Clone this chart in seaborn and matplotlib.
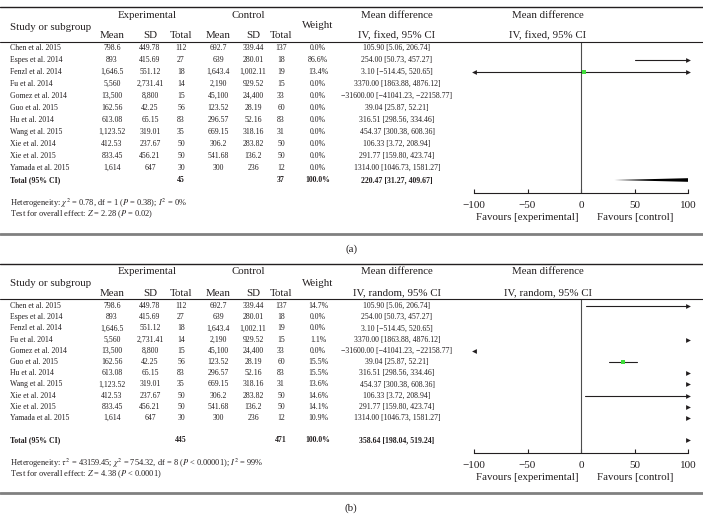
import matplotlib
matplotlib.use("Agg")
import numpy as np
import pandas as pd
import matplotlib.pyplot as plt
from matplotlib.lines import Line2D
import seaborn as sns

# --- data ---
studies = ["Chen et al. 2015", "Espes et al. 2014", "Fenzl et al. 2014", "Fu et al. 2014",
           "Gomez et al. 2014", "Guo et al. 2015", "Hu et al. 2014", "Wang et al. 2015",
           "Xie et al. 2014", "Xie et al. 2015", "Yamada et al. 2015"]
exp_mean = [798.6, 893, 1646.5, 5560, 13500, 162.56, 613.08, 1123.52, 412.53, 833.45, 1614]
exp_sd = [449.78, 415.69, 551.12, 2731.41, 8800, 42.25, 65.15, 319.01, 237.67, 456.21, 647]
exp_n = [112, 27, 18, 14, 15, 56, 83, 35, 50, 50, 30]
ctrl_mean = [692.7, 639, 1643.4, 2190, 45100, 123.52, 296.57, 669.15, 306.2, 541.68, 300]
ctrl_sd = [339.44, 280.01, 1002.11, 929.52, 24400, 28.19, 52.16, 318.16, 283.82, 136.2, 236]
ctrl_n = [137, 18, 19, 15, 33, 60, 83, 31, 50, 50, 12]
md = [105.90, 254.00, 3.10, 3370.00, -31600.00, 39.04, 316.51, 454.37, 106.33, 291.77, 1314.00]
md_lo = [5.06, 50.73, -514.45, 1863.88, -41041.23, 25.87, 298.56, 300.38, 3.72, 159.80, 1046.73]
md_hi = [206.74, 457.27, 520.65, 4876.12, -22158.77, 52.21, 334.46, 608.36, 208.94, 423.74, 1581.27]

weight_fixed = [0.0, 86.6, 13.4, 0.0, 0.0, 0.0, 0.0, 0.0, 0.0, 0.0, 0.0]
weight_random = [14.7, 0.0, 0.0, 1.1, 0.0, 15.5, 15.5, 13.6, 14.6, 14.1, 10.9]
shown_fixed = [False, True, True, False, False, False, False, False, False, False, False]
shown_random = [True, False, False, True, True, True, True, True, True, True, True]

total_fixed = dict(n_exp=45, n_ctrl=37, md=220.47, lo=31.27, hi=409.67)
total_random = dict(n_exp=445, n_ctrl=471, md=358.64, lo=198.04, hi=519.24)

xticks = [-100, -50, 0, 50, 100]

W, H = 703, 530
TXT = "#231f20"

sns.set_theme(style="white")
plt.rcParams["font.family"] = ["Liberation Serif", "DejaVu Serif"]
plt.rcParams["mathtext.fontset"] = "stix"

fig = plt.figure(figsize=(W / 100, H / 100), dpi=100)


def put(x, y, s, size=5.6, ha="center", weight="normal"):
    fig.text(x / W, 1 - y / H, s, ha=ha, va="center", fontsize=size,
             color=TXT, fontweight=weight)


def rule(y, lw=0.9, color=TXT):
    fig.add_artist(Line2D([0, 1], [1 - y / H] * 2, lw=lw, color=color))


def fmt_md(m, lo, hi):
    return f"{m:.2f} [{lo:.2f}, {hi:.2f}]".replace("-", "\u2212")


# column centres (px)
cx = dict(em=112, esd=150, en=181, cm=218, csd=253, cn=281, w=318, md=397)


def panel(top, y0, dy, total_y, axis_y, weights, shown, tot, method, het, test, tag, bottom):
    head_y = top + 8
    rule(top, lw=1.0)
    put(147, head_y, "Experimental", 7.8)
    put(248, head_y, "Control", 7.8)
    put(397, head_y, "Mean difference", 7.8)
    put(548, head_y, "Mean difference", 7.8)
    put(10, top + 20, "Study or subgroup", 7.8, ha="left")
    put(cx["w"], top + 19, "Weight", 7.8)
    sub_y = top + 29
    for k, lab in zip(["em", "esd", "en", "cm", "csd", "cn"],
                      ["Mean", "SD", "Total", "Mean", "SD", "Total"]):
        put(cx[k], sub_y, lab, 7.8)
    put(397, sub_y, f"IV, {method}, 95% CI", 7.8)
    put(548, sub_y, f"IV, {method}, 95% CI", 7.8)
    hrule = top + 35
    rule(hrule, lw=0.8)

    row_y = y0 + np.arange(len(studies)) * dy
    for i, y in enumerate(row_y):
        put(10, y, studies[i], ha="left")
        put(cx["em"], y, f"{exp_mean[i]:,}")
        put(cx["esd"], y, f"{exp_sd[i]:,}")
        put(cx["en"], y, str(exp_n[i]))
        put(cx["cm"], y, f"{ctrl_mean[i]:,}")
        put(cx["csd"], y, f"{ctrl_sd[i]:,}")
        put(cx["cn"], y, str(ctrl_n[i]))
        put(cx["w"], y, f"{weights[i]:.1f}%")
        put(cx["md"], y, fmt_md(md[i], md_lo[i], md_hi[i]))
    put(10, total_y, "Total (95% CI)", ha="left", weight="bold")
    put(cx["en"], total_y, str(tot["n_exp"]), weight="bold")
    put(cx["cn"], total_y, str(tot["n_ctrl"]), weight="bold")
    put(cx["w"], total_y, "100.0%", weight="bold")
    put(cx["md"], total_y, fmt_md(tot["md"], tot["lo"], tot["hi"]), weight="bold")

    put(10, axis_y + 10, het, 6.0, ha="left")
    put(10, axis_y + 21, test, 6.0, ha="left")

    # forest plot
    ax = fig.add_axes([474 / W, 1 - axis_y / H, 214 / W, (axis_y - hrule) / H])
    ax.patch.set_alpha(0)
    ax.set_xlim(-100, 100)
    ax.set_ylim(axis_y, hrule)
    ax.axvline(0, color="#4d4d4d", lw=0.8)

    df = pd.DataFrame(dict(md=md, lo=md_lo, hi=md_hi, w=weights, y=row_y))[shown]
    right, left = [], []
    for r in df.itertuples():
        if r.hi < -100:
            left.append(r.y)
        elif r.lo > 100:
            right.append(r.y)
        else:
            ax.plot([max(r.lo, -100), min(r.hi, 100)], [r.y, r.y], color=TXT, lw=0.8)
            if r.lo < -100:
                left.append(r.y)
            if r.hi > 100:
                right.append(r.y)
    sq = df[(df.md >= -100) & (df.md <= 100) & (df.w > 0)]
    sns.scatterplot(x=sq.md, y=sq.y, marker="s", s=10, color="#3fdc3a",
                    linewidth=0, ax=ax, zorder=5)

    if tot["lo"] > 100:
        right.append(total_y)
    else:
        h = 5.0
        ax.fill([tot["lo"], tot["md"], tot["hi"], tot["md"]],
                [total_y, total_y - h, total_y, total_y + h], color="black", lw=0)
    if right:
        sns.scatterplot(x=[100] * len(right), y=right, marker=">", s=12, color=TXT,
                        linewidth=0, ax=ax, clip_on=False, zorder=6)
    if left:
        sns.scatterplot(x=[-100] * len(left), y=left, marker="<", s=12, color=TXT,
                        linewidth=0, ax=ax, clip_on=False, zorder=6)

    for s in ["top", "left", "right"]:
        ax.spines[s].set_visible(False)
    ax.spines["bottom"].set_color(TXT)
    ax.spines["bottom"].set_linewidth(0.8)
    ax.set_xticks(xticks)
    ax.set_yticks([])
    ax.set_xlabel("")
    ax.set_ylabel("")
    ax.tick_params(axis="x", direction="in", length=3, width=0.8, labelsize=8,
                   pad=6, colors=TXT, bottom=True)

    put(578, axis_y + 24, "Favours [experimental]", 7.8, ha="right")
    put(597, axis_y + 24, "Favours [control]", 7.8, ha="left")

    rule(bottom, lw=2.0, color="#808080")
    put(351, bottom + 15, tag, 7.8)


panel(top=7, y0=48, dy=12.0, total_y=180, axis_y=193,
      weights=weight_fixed, shown=shown_fixed, tot=total_fixed, method="fixed",
      het=r"Heterogeneity: $\chi^2$ = 0.78, df = 1 ($P$ = 0.38); $I^2$ = 0%",
      test=r"Test for overall effect: $Z$ = 2.28 ($P$ = 0.02)", tag="(a)", bottom=234)

panel(top=264, y0=306, dy=11.2, total_y=440, axis_y=453,
      weights=weight_random, shown=shown_random, tot=total_random, method="random",
      het=r"Heterogeneity: $\tau^2$ = 43159.45; $\chi^2$ = 754.32, df = 8 ($P$ < 0.00001); $I^2$ = 99%",
      test=r"Test for overall effect: $Z$ = 4.38 ($P$ < 0.0001)", tag="(b)", bottom=493)

fig.savefig("out.png", dpi=100, facecolor="white")
